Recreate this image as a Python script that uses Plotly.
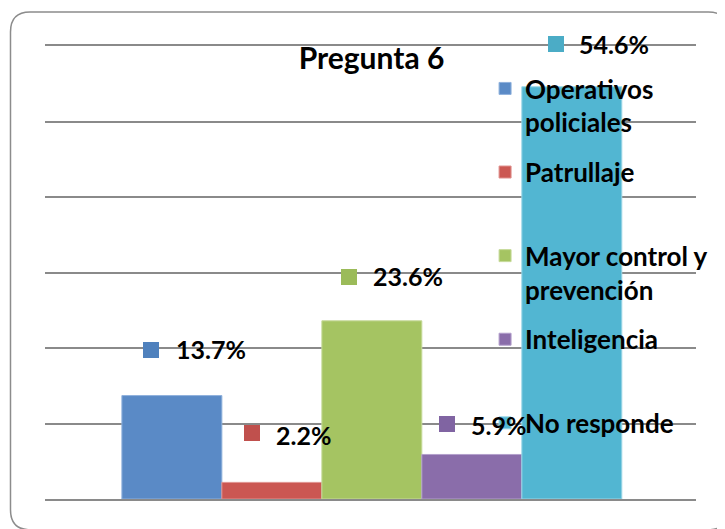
import plotly.graph_objects as go

# ---- data ----
categories = ["Operativos policiales", "Patrullaje", "Mayor control y prevención",
              "Inteligencia", "No responde"]
legend_names = ["Operativos<br>policiales", "Patrullaje<br> ", "Mayor control y<br>prevención",
                "Inteligencia<br> ", "No responde<br> "]
values = [13.7, 2.2, 23.6, 5.9, 54.6]
value_labels = ["13.7%", "2.2%", "23.6%", "5.9%", "54.6%"]
title_text = "Pregunta 6"

# ---- styles ----
bar_colors = ["#5A8AC6", "#CB5752", "#A5C462", "#8A6DAA", "#52B6D2"]
key_colors = ["#4F81BD", "#C0504D", "#9BBB59", "#8064A2", "#4BACC6"]
edge_colors = ["#8FB1DC", "#E0928F", "#C6DA9A", "#B3A0CC", "#9AD6E6"]
# data-label offsets (pixels, relative to bar centre / bar top)
key_dx = [-29, -28, -31, -33, -24]   # left edge of key square
key_dy = [38, 41, 36, 22, 35]        # bottom edge of key square
KEY = 16
txt_dx = [2, 2, -1, -3, 5]
txt_dy = [47, 47, 45, 29, 43]

FONT = "Lato"
GRID = "#8A8A8A"

fig = go.Figure()
for i, (cat, nm, v) in enumerate(zip(categories, legend_names, values)):
    fig.add_trace(go.Bar(
        x=[i], y=[v], width=1, name=nm, legendgroup=cat,
        marker=dict(color=bar_colors[i], line=dict(color=edge_colors[i], width=1)),
        hoverinfo="skip",
    ))

annotations = []
for i, (v, lab) in enumerate(zip(values, value_labels)):
    # legend-key square of the data label
    annotations.append(dict(
        x=i, y=v, xref="x", yref="y", text=" ", showarrow=False,
        xanchor="left", yanchor="bottom", xshift=key_dx[i], yshift=key_dy[i],
        width=KEY, height=KEY, borderpad=0, borderwidth=0,
        bgcolor=key_colors[i], font=dict(size=4),
    ))
    annotations.append(dict(
        x=i, y=v, xref="x", yref="y", text=lab, showarrow=False,
        xanchor="left", yanchor="middle", xshift=txt_dx[i], yshift=txt_dy[i],
        font=dict(family=FONT, size=25, color="black", weight="bold"),
    ))

# outer rounded border (chart area frame)
x0, x1, y0, y1 = -0.053, 1.049, -0.068, 1.075
rx, ry = 0.030, 0.044
path = (f"M {x0+rx},{y1} L {x1-rx},{y1} Q {x1},{y1} {x1},{y1-ry} "
        f"L {x1},{y0+ry} Q {x1},{y0} {x1-rx},{y0} L {x0+rx},{y0} "
        f"Q {x0},{y0} {x0},{y0+ry} L {x0},{y1-ry} Q {x0},{y1} {x0+rx},{y1} Z")
shapes = [dict(type="path", xref="paper", yref="paper", path=path,
               line=dict(color="#8C8C8C", width=1.5), layer="below")]

W, H = 717, 521
fig.update_layout(
    width=W, height=H,
    margin=dict(l=37, r=22, t=38, b=30),
    paper_bgcolor="white", plot_bgcolor="white",
    barmode="overlay",
    showlegend=True,
    title=dict(text=title_text, x=0.5015, xref="paper", xanchor="center",
               y=1 - 50 / H, yref="container", yanchor="middle",
               font=dict(family=FONT, size=30, color="black", weight="bold")),
    legend=dict(
        x=0.676, xanchor="left", y=0.958, yanchor="top", yref="paper",
        valign="top", traceorder="grouped", tracegroupgap=13,
        bgcolor="rgba(0,0,0,0)",
        font=dict(family=FONT, size=26, color="black", weight="bold"),
    ),
    xaxis=dict(range=[-1.269, 5.242], showticklabels=False, showgrid=False,
               zeroline=False, showline=True, mirror=True, linecolor=GRID,
               linewidth=2, ticks=""),
    yaxis=dict(range=[0, 60], dtick=10, showticklabels=False, showgrid=True,
               gridcolor=GRID, gridwidth=2, zeroline=False, showline=False,
               ticks=""),
    annotations=annotations,
    shapes=shapes,
)

fig.write_html("out.html")
